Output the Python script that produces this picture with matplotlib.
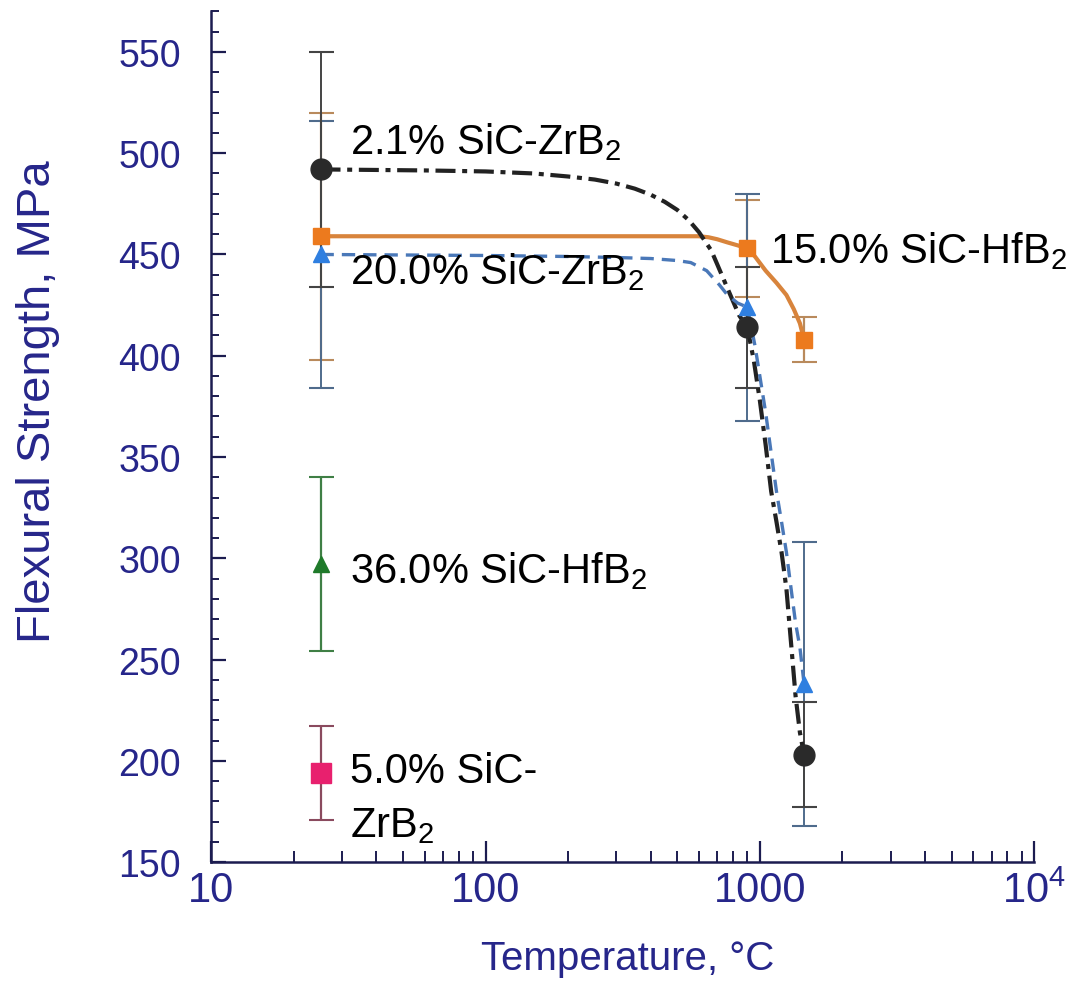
import matplotlib
matplotlib.use("Agg")
import matplotlib.pyplot as plt
from matplotlib.ticker import FixedLocator, NullFormatter, LogLocator

plt.rcParams['font.family'] = ['Liberation Sans', 'DejaVu Sans']
plt.rcParams['mathtext.fontset'] = 'custom'
plt.rcParams['mathtext.rm'] = 'Liberation Sans'
plt.rcParams['mathtext.it'] = 'Liberation Sans:italic'

# ---- measured points ----
T_pts = [25, 900, 1450]
s21_zrb2 = [492, 414, 203]
s21_err = [58, 30, 26]
s15_hfb2 = [459, 453, 408]
s15_err = [61, 24, 11]
s20_zrb2 = [450, 424, 238]
s20_err = [66, 56, 70]
T_single = [25]
s36_hfb2 = [297]
s36_err = [43]
s5_zrb2 = [194]
s5_err = [23]

# ---- fitted curves ----
fit21_T = [25, 60, 100, 150, 200, 250, 300, 350, 400, 450, 500, 550, 600, 665, 700, 775,
           840, 900, 950, 1000, 1050, 1100, 1150, 1200, 1250, 1300, 1350, 1400, 1450]
fit21_S = [492, 491.5, 491, 490, 488.5, 487, 485, 482.5, 479.5, 476, 472, 467, 461, 452,
           445, 431, 420, 414, 398, 378, 356, 333, 318, 303, 285, 258, 232, 214, 203]
fit20_T = [25, 100, 200, 300, 400, 500, 560, 640, 712, 762, 830, 900, 960, 1000, 1050,
           1100, 1150, 1200, 1250, 1300, 1350, 1400, 1450]
fit20_S = [450, 449.5, 449, 448.5, 448, 447, 446, 442, 435, 430, 426, 424, 405, 390, 372,
           352, 333, 318, 303, 285, 268, 256, 238]
fit15_T = [25, 100, 300, 600, 650, 700, 760, 830, 900, 960, 1050, 1150, 1250, 1330, 1400, 1450]
fit15_S = [459, 459, 459, 459, 458.5, 457.5, 456, 454.5, 453, 449, 442, 436, 430, 423, 416, 408]

xticks = [10, 100, 1000, 10000]
xticklabels = ['10', '100', '1000', '10$^4$']
yticks = [150, 200, 250, 300, 350, 400, 450, 500, 550]

navy = '#26268a'
spine_c = '#1c1c50'

fig = plt.figure(figsize=(10.73, 10.04), dpi=100)
ax = fig.add_axes([0.197, 0.1404, 0.7667, 0.8472])
ax.set_xscale('log')
ax.set_xlim(10, 10000)
ax.set_ylim(150, 570)

# fitted lines
l21, = ax.plot(fit21_T, fit21_S, color='#222222', lw=3.0, zorder=3)
l21.set_dashes([4.8, 1.6, 1.2, 1.6])
l20, = ax.plot(fit20_T, fit20_S, color='#4a78b8', lw=2.4, zorder=3)
l20.set_dashes([4.0, 2.4])
ax.plot(fit15_T, fit15_S, color='#d8843c', lw=3.0, zorder=2)

# error bars
cap = 9
ax.errorbar(T_pts, s15_hfb2, yerr=s15_err, fmt='none', ecolor='#b98a5c', elinewidth=1.6,
            capsize=cap, capthick=1.5, zorder=1)
ax.errorbar(T_pts, s20_zrb2, yerr=s20_err, fmt='none', ecolor='#4f6b8c', elinewidth=1.4,
            capsize=cap, capthick=1.5, zorder=1)
ax.errorbar(T_pts, s21_zrb2, yerr=s21_err, fmt='none', ecolor='#444444', elinewidth=1.4,
            capsize=cap, capthick=1.5, zorder=1)
ax.errorbar(T_single, s36_hfb2, yerr=s36_err, fmt='none', ecolor='#3f7f45', elinewidth=1.6,
            capsize=cap, capthick=1.5, zorder=1)
ax.errorbar(T_single, s5_zrb2, yerr=s5_err, fmt='none', ecolor='#8a4a5e', elinewidth=1.6,
            capsize=cap, capthick=1.5, zorder=1)

# markers
ax.plot(T_pts, s15_hfb2, 's', color='#ec7a1e', ms=11, zorder=5)
ax.plot(T_pts, s20_zrb2, '^', color='#2f7fe0', ms=11, zorder=5)
ax.plot(T_pts, s21_zrb2, 'o', color='#2a2a2a', ms=15, zorder=6)
ax.plot(T_single, s36_hfb2, '^', color='#1f7a2a', ms=12, zorder=5)
ax.plot(T_single, s5_zrb2, 's', color='#e8206e', ms=14, zorder=5)

# annotations
fs = 30
ax.text(32, 500, '2.1% SiC-ZrB$_2$', fontsize=fs, color='black', va='baseline')
ax.text(1085, 446, '15.0% SiC-HfB$_2$', fontsize=fs, color='black', va='baseline')
ax.text(32, 436, '20.0% SiC-ZrB$_2$', fontsize=fs, color='black', va='baseline')
ax.text(32, 288, '36.0% SiC-HfB$_2$', fontsize=fs, color='black', va='baseline')
ax.text(32, 189.5, '5.0% SiC-', fontsize=fs, color='black', va='baseline')
ax.text(32, 163, 'ZrB$_2$', fontsize=fs, color='black', va='baseline')

# axes styling
for s in ['top', 'right']:
    ax.spines[s].set_visible(False)
for s in ['left', 'bottom']:
    ax.spines[s].set_color(spine_c)
    ax.spines[s].set_linewidth(1.8)

ax.set_yticks(yticks)
ax.yaxis.set_minor_locator(FixedLocator(list(range(150, 571, 10))))
ax.set_xticks(xticks)
ax.set_xticklabels(xticklabels)
ax.xaxis.set_minor_locator(LogLocator(base=10, subs=range(2, 10)))
ax.xaxis.set_minor_formatter(NullFormatter())

ax.tick_params(axis='y', which='major', direction='in', length=11, width=1.6,
               color=spine_c, labelsize=27, labelcolor=navy, pad=22)
ax.tick_params(axis='y', which='minor', direction='in', length=6, width=1.4, color=spine_c)
ax.tick_params(axis='x', which='major', direction='in', length=15, width=1.6,
               color=spine_c, labelsize=30, labelcolor=navy, pad=6)
ax.tick_params(axis='x', which='minor', direction='in', length=8, width=1.4, color=spine_c)

ax.set_xlabel('Temperature, °C', fontsize=29, color=navy)
ax.xaxis.set_label_coords(0.506, -0.09)
ax.set_ylabel('Flexural Strength, MPa', fontsize=34, color=navy)
ax.yaxis.set_label_coords(-0.184, 0.542)

fig.savefig('out.png', dpi=100)
